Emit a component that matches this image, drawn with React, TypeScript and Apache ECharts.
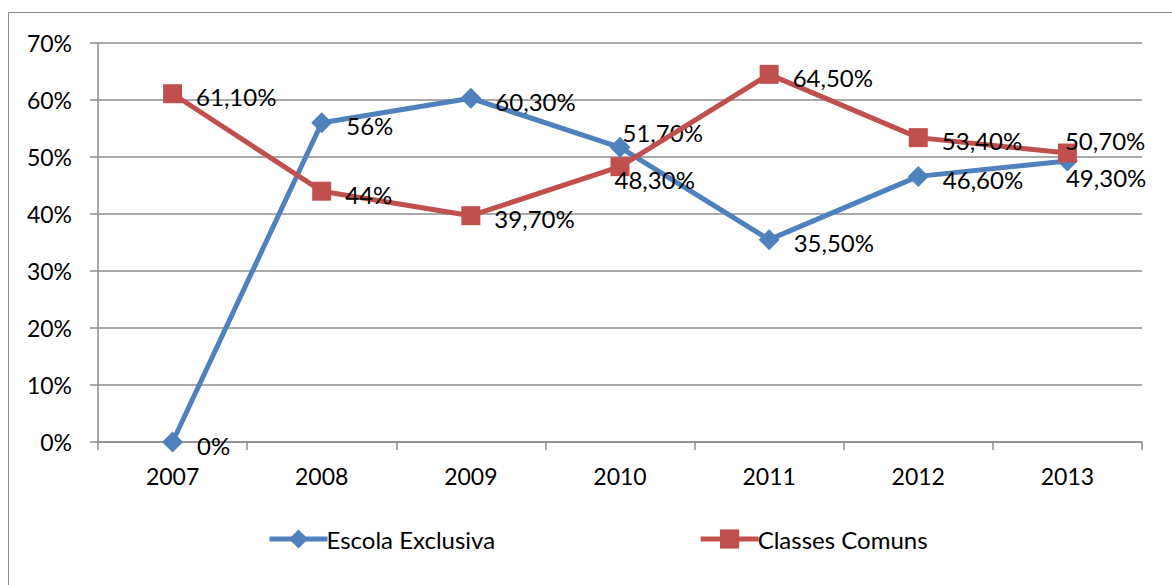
import React, { useEffect, useRef } from "react";
import * as echarts from "echarts";

const years = ["2007", "2008", "2009", "2010", "2011", "2012", "2013"];
const escolaExclusiva = [0, 56, 60.3, 51.7, 35.5, 46.6, 49.3];
const escolaLabels = ["0%", "56%", "60,30%", "51,70%", "35,50%", "46,60%", "49,30%"];
const classesComuns = [61.1, 44, 39.7, 48.3, 64.5, 53.4, 50.7];
const classesLabels = ["61,10%", "44%", "39,70%", "48,30%", "64,50%", "53,40%", "50,70%"];
const yTicks = ["0%", "10%", "20%", "30%", "40%", "50%", "60%", "70%"];

const FONT = "Lato, 'Noto Sans', sans-serif";
const BLUE = "#4F81BD";
const RED = "#C0504D";
const GRID = "#8c8c8c";

const escolaOffsets: Record<number, [number, number]> = { 3: [-22, -15], 6: [-26, 17] };
const classesOffsets: Record<number, [number, number]> = { 3: [-29, 13], 6: [-26, -13] };

function buildData(values: number[], labels: string[], offsets: Record<number, [number, number]>) {
  return values.map((v, i) => ({
    value: v,
    label: { formatter: labels[i], offset: offsets[i] || [0, 3] },
  }));
}

export default function App() {
  const ref = useRef<HTMLDivElement>(null);
  useEffect(() => {
    if (!ref.current) return;
    const chart = echarts.init(ref.current, undefined, { renderer: "svg" });
    const labelStyle = {
      show: true,
      position: "right" as const,
      distance: 14,
      color: "#000",
      fontFamily: FONT,
      fontSize: 24,
    };
    chart.setOption({
      animation: false,
      backgroundColor: "#fff",
      graphic: [
        {
          type: "rect",
          shape: { x: 8.5, y: 12.5, width: 1300, height: 700 },
          style: { fill: "none", stroke: "#8c8c8c", lineWidth: 1 },
          silent: true,
          z: -10,
        },
      ],
      grid: { left: 98, right: 30, top: 43, bottom: 143 },
      legend: {
        left: 262,
        top: 522,
        itemWidth: 58,
        itemHeight: 24,
        itemGap: 203,
        lineStyle: { width: 5 },
        textStyle: { color: "#000", fontFamily: FONT, fontSize: 24, padding: [0, 0, 0, -6] },
        data: ["Escola Exclusiva", "Classes Comuns"],
      },
      xAxis: {
        type: "category",
        data: years,
        boundaryGap: true,
        axisLine: { lineStyle: { color: GRID, width: 1.5 } },
        axisTick: { show: true, length: 8, alignWithLabel: false, lineStyle: { color: GRID, width: 1.5 } },
        axisLabel: { color: "#000", fontFamily: FONT, fontSize: 23, margin: 22 },
      },
      yAxis: {
        type: "value",
        min: 0,
        max: 70,
        interval: 10,
        axisLine: { show: true, lineStyle: { color: GRID, width: 1.5 } },
        axisTick: { show: true, length: 8, lineStyle: { color: GRID, width: 1.5 } },
        splitLine: { lineStyle: { color: GRID, width: 1.5 } },
        axisLabel: {
          color: "#000",
          fontFamily: FONT,
          fontSize: 23,
          margin: 26,
          formatter: (v: number) => yTicks[Math.round(v / 10)],
        },
      },
      series: [
        {
          name: "Escola Exclusiva",
          type: "line",
          data: buildData(escolaExclusiva, escolaLabels, escolaOffsets),
          symbol: "diamond",
          symbolSize: 21,
          color: BLUE,
          lineStyle: { color: BLUE, width: 5 },
          itemStyle: { color: BLUE },
          label: labelStyle,
          z: 2,
        },
        {
          name: "Classes Comuns",
          type: "line",
          data: buildData(classesComuns, classesLabels, classesOffsets),
          symbol: "rect",
          symbolSize: 19,
          color: RED,
          lineStyle: { color: RED, width: 5 },
          itemStyle: { color: RED },
          label: labelStyle,
          z: 3,
        },
      ],
    });
    return () => chart.dispose();
  }, []);
  return (
    <div
      ref={ref}
      style={{ position: "fixed", left: 0, top: 0, width: 1172, height: 585 }}
    />
  );
}
